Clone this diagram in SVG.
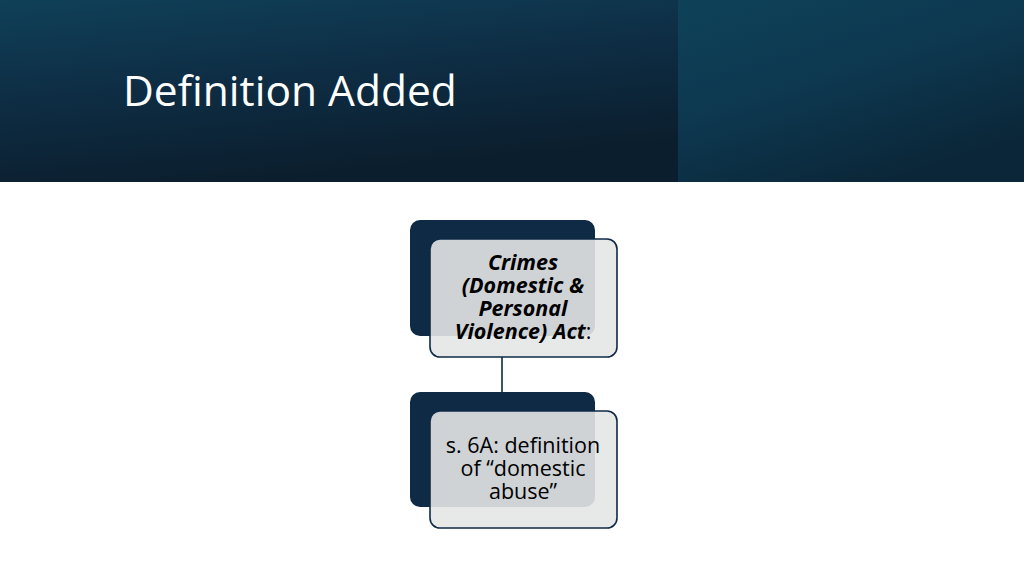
<svg xmlns="http://www.w3.org/2000/svg" width="1024" height="575" viewBox="0 0 1024 575">
<defs>
<linearGradient id="gl" x1="0" y1="0" x2="0.35" y2="1">
<stop offset="0" stop-color="#0f4058"/>
<stop offset="0.5" stop-color="#0e2d44"/>
<stop offset="1" stop-color="#0b1e2d"/>
</linearGradient>
<linearGradient id="gr" x1="0" y1="0" x2="0.6" y2="1">
<stop offset="0" stop-color="#0e4259"/>
<stop offset="0.5" stop-color="#0d3850"/>
<stop offset="1" stop-color="#0b2638"/>
</linearGradient>
<style>
.back{fill:#0e2a45;}
.front{fill:#e4e5e6;fill-opacity:0.9;stroke:#0e2a45;stroke-width:1.6;}
.conn{stroke:#0e2a45;stroke-width:1.6;fill:none;}
.t{font-family:"Open Sans","Noto Sans","Liberation Sans",sans-serif;font-size:21.5px;fill:#000;text-anchor:middle;}
.bi{font-weight:bold;font-style:italic;}
.title{font-family:"Open Sans","Noto Sans","Liberation Sans",sans-serif;font-size:42.5px;fill:#ffffff;}
</style>
</defs>
<rect x="0" y="0" width="1024" height="575" fill="#ffffff"/>
<g id="header">
<rect x="0" y="0" width="678" height="182" fill="url(#gl)"/>
<rect x="678" y="0" width="346" height="182" fill="url(#gr)"/>
<text class="title" x="123" y="106">Definition Added</text>
</g>
<g id="connectors">
<line class="conn" x1="502" y1="357" x2="502" y2="392"/>
</g>
<g id="node1">
<rect class="back" x="410" y="220" width="185" height="116" rx="10"/>
<rect class="front" x="430" y="239" width="187" height="118" rx="10"/>
<text class="t"><tspan class="bi" x="523" y="270">Crimes</tspan><tspan class="bi" x="523" y="293">(Domestic &amp;</tspan><tspan class="bi" x="523" y="316">Personal</tspan><tspan x="523" y="339"><tspan class="bi">Violence) Act</tspan>:</tspan></text>
</g>
<g id="node2">
<rect class="back" x="410" y="392" width="185" height="115" rx="10"/>
<rect class="front" x="430" y="411" width="187" height="117" rx="10"/>
<text class="t"><tspan x="523" y="453">s. 6A: definition</tspan><tspan x="523" y="476">of “domestic</tspan><tspan x="523" y="499">abuse”</tspan></text>
</g>
</svg>
